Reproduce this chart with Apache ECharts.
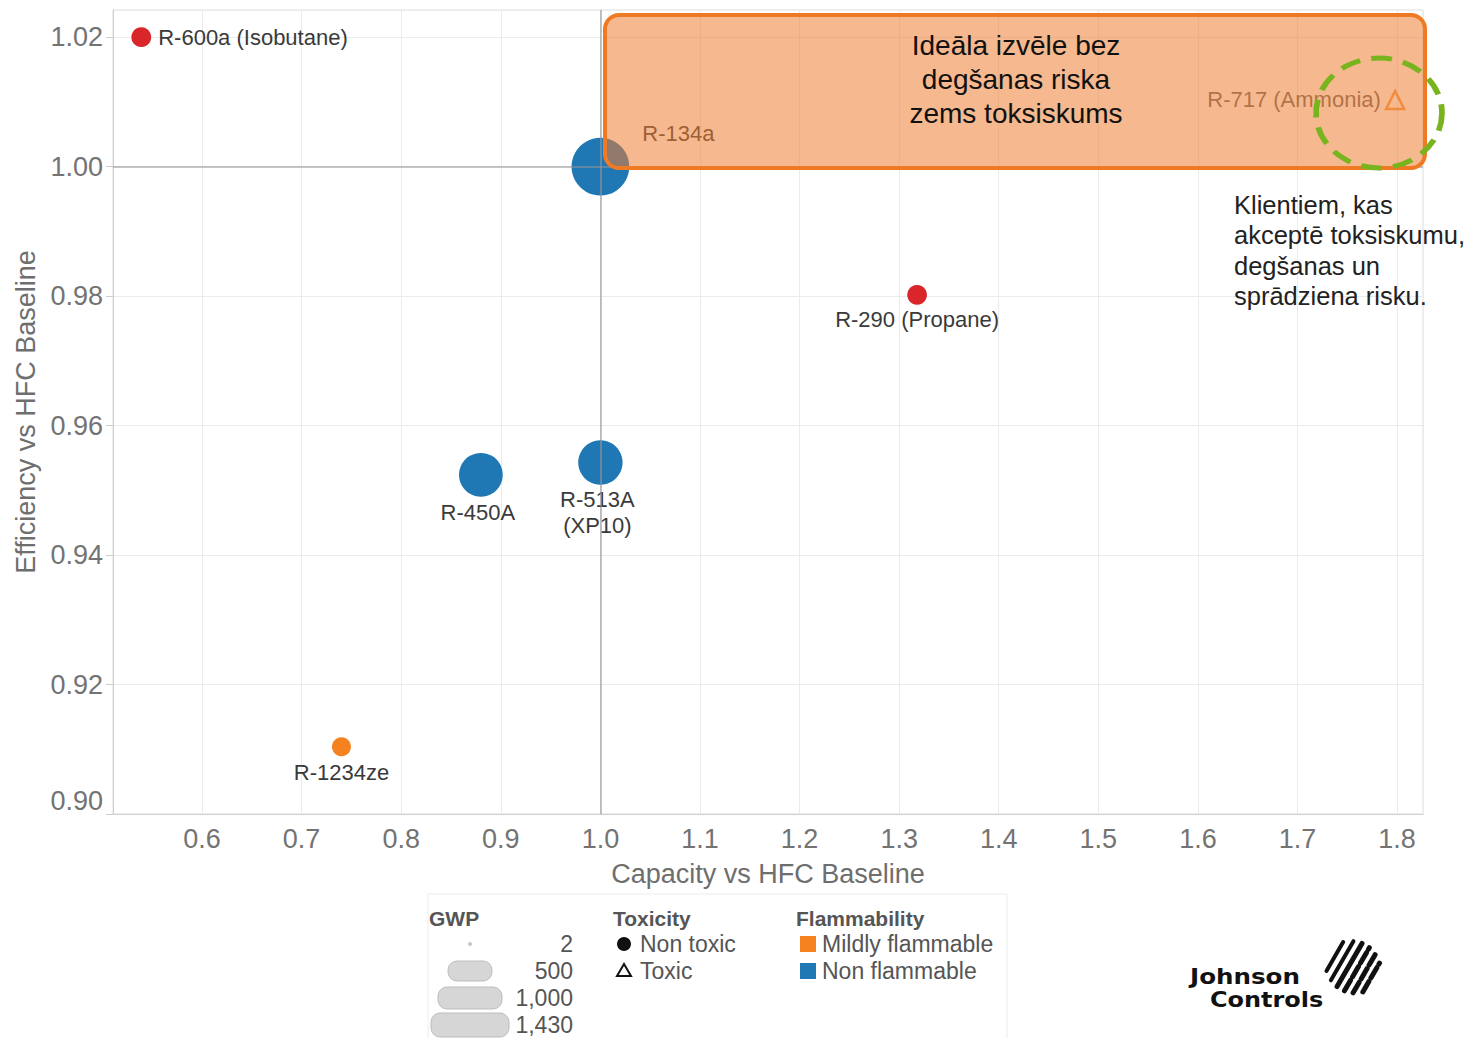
<!DOCTYPE html>
<html>
<head>
<meta charset="utf-8">
<script src="https://cdn.jsdelivr.net/npm/echarts@6/dist/echarts.min.js"></script>
<style>
  html, body { margin: 0; padding: 0; background: #fff; }
  #chart { width: 1464px; height: 1038px; }
</style>
</head>
<body>
<div id="chart"></div>
<script>
// Refrigerant comparison: capacity and efficiency relative to the HFC baseline
const refrigerants = ['R-600a (Isobutane)', 'R-134a', 'R-290 (Propane)', 'R-450A', 'R-513A\n(XP10)', 'R-1234ze', 'R-717 (Ammonia)'];
const capacity     = [0.539, 1.000, 1.318, 0.880, 1.000, 0.740, 1.798];
const efficiency   = [1.0200, 1.0000, 0.9802, 0.9524, 0.9543, 0.9104, 1.0103];
const gwp          = [3, 1430, 3, 601, 631, 1, 0];
const toxicity     = ['Non toxic', 'Non toxic', 'Non toxic', 'Non toxic', 'Non toxic', 'Non toxic', 'Toxic'];
const flammability = ['Flammable', 'Non flammable', 'Flammable', 'Non flammable', 'Non flammable', 'Mildly flammable', 'Mildly flammable'];

const xTicks = [0.6, 0.7, 0.8, 0.9, 1.0, 1.1, 1.2, 1.3, 1.4, 1.5, 1.6, 1.7, 1.8];
const yTicks = [0.90, 0.92, 0.94, 0.96, 0.98, 1.00, 1.02];
const baseline = 1.0;

const gwpLegend = [2, 500, 1000, 1430];
const toxicityLegend = ['Non toxic', 'Toxic'];
const flammabilityLegend = ['Mildly flammable', 'Non flammable'];

const FONT = '"Liberation Sans", Arial, sans-serif';
const flamColors = { 'Flammable': '#d9262b', 'Mildly flammable': '#f5821f', 'Non flammable': '#1f77b4' };
const sizeFromGwp = g => 18 + 1.05 * Math.sqrt(g);

const labelPlacement = {
  'R-600a (Isobutane)': { position: 'right', distance: 7 },
  'R-134a': { position: 'right', distance: 5, offset: [8, -33] },
  'R-290 (Propane)': { position: 'bottom', distance: 4 },
  'R-450A': { position: 'bottom', distance: 5, offset: [-3, 0] },
  'R-513A\n(XP10)': { position: 'bottom', distance: 2, offset: [-3, 0], lineHeight: 26 },
  'R-1234ze': { position: 'bottom', distance: 5 },
  'R-717 (Ammonia)': { position: 'left', distance: 4 }
};

const points = refrigerants.map((name, i) => {
  const toxic = toxicity[i] === 'Toxic';
  const col = flamColors[flammability[i]];
  return {
    name: name,
    value: [capacity[i], efficiency[i], gwp[i]],
    symbol: toxic ? 'triangle' : 'circle',
    symbolSize: sizeFromGwp(gwp[i]),
    itemStyle: toxic
      ? { color: 'rgba(0,0,0,0)', borderColor: col, borderWidth: 2.5 }
      : { color: col, opacity: 1 },
    label: Object.assign({
      show: true,
      formatter: '{b}',
      color: '#3a3a3a',
      fontSize: 22,
      fontFamily: FONT
    }, labelPlacement[name])
  };
});

// ---- annotation and legend graphics ----
const graphics = [];

// highlighted zone (ideal choice)
graphics.push({
  type: 'rect', z: 10,
  shape: { x: 605, y: 15, width: 820, height: 153, r: 14 },
  style: { fill: 'rgba(239,126,50,0.55)', stroke: '#f07a24', lineWidth: 4 }
});
graphics.push({
  type: 'text', z: 11, x: 1016, y: 79,
  style: {
    text: 'Ideāla izvēle bez\ndegšanas riska\nzems toksiskums',
    font: '28px ' + FONT, fill: '#111', align: 'center', verticalAlign: 'middle', lineHeight: 34
  }
});
// dashed ring around ammonia
graphics.push({
  type: 'circle', z: 12, x: 1379, y: 113, scaleX: 63 / 55,
  shape: { cx: 0, cy: 0, r: 55 },
  style: { fill: 'none', stroke: '#78b41e', lineWidth: 5, lineDash: [18, 10] }
});
graphics.push({
  type: 'text', z: 11, x: 1234, y: 190,
  style: {
    text: 'Klientiem, kas\nakceptē toksiskumu,\ndegšanas un\nsprādziena risku.',
    font: '25.5px ' + FONT, fill: '#222', align: 'left', verticalAlign: 'top', lineHeight: 30.3
  }
});

// legend frame
graphics.push({
  type: 'rect', z: 1,
  shape: { x: 428, y: 894, width: 579, height: 150 },
  style: { fill: 'none', stroke: '#ededed', lineWidth: 1 }
});
const legTitle = (x, txt) => ({
  type: 'text', z: 2, x: x, y: 918,
  style: { text: txt, font: 'bold 21px ' + FONT, fill: '#555', align: 'left', verticalAlign: 'middle' }
});
const legText = (x, y, txt, align) => ({
  type: 'text', z: 2, x: x, y: y,
  style: { text: txt, font: '23px ' + FONT, fill: '#555', align: align || 'left', verticalAlign: 'middle' }
});

// GWP size key
graphics.push(legTitle(429, 'GWP'));
const gwpKeyWidths = [3, 44, 64, 78];
const gwpKeyHeights = [3, 20, 22, 24];
gwpLegend.forEach((g, i) => {
  const cy = 944 + i * 27;
  const w = gwpKeyWidths[i], h = gwpKeyHeights[i];
  graphics.push({
    type: 'rect', z: 2,
    shape: { x: 470 - w / 2, y: cy - h / 2, width: w, height: h, r: Math.min(h / 2, 9) },
    style: { fill: '#d6d6d6', stroke: '#bdbdbd', lineWidth: 1 }
  });
  graphics.push(legText(573, cy, g.toLocaleString('en-US'), 'right'));
});

// toxicity key
graphics.push(legTitle(613, 'Toxicity'));
toxicityLegend.forEach((t, i) => {
  const cy = 944 + i * 27;
  if (t === 'Toxic') {
    graphics.push({
      type: 'polygon', z: 2,
      shape: { points: [[624, cy - 7], [631, cy + 5], [617, cy + 5]] },
      style: { fill: 'none', stroke: '#111', lineWidth: 2 }
    });
  } else {
    graphics.push({ type: 'circle', z: 2, shape: { cx: 624, cy: cy, r: 7 }, style: { fill: '#111' } });
  }
  graphics.push(legText(640, cy, t));
});

// flammability key
graphics.push(legTitle(796, 'Flammability'));
flammabilityLegend.forEach((f, i) => {
  const cy = 944 + i * 27;
  graphics.push({ type: 'rect', z: 2, shape: { x: 800, y: cy - 8, width: 16, height: 16 }, style: { fill: flamColors[f] } });
  graphics.push(legText(822, cy, f));
});

// company mark
graphics.push({
  type: 'text', z: 2, x: 1190, y: 977, scaleX: 1.17,
  style: { text: 'Johnson', font: 'bold 21px "DejaVu Sans", sans-serif', fill: '#111', align: 'left', verticalAlign: 'middle' }
});
graphics.push({
  type: 'text', z: 2, x: 1210, y: 1000, scaleX: 1.14,
  style: { text: 'Controls', font: 'bold 21px "DejaVu Sans", sans-serif', fill: '#111', align: 'left', verticalAlign: 'middle' }
});
(function globe() {
  const cx = 1353, cy = 967, R = 28;
  const ang = -60 * Math.PI / 180;
  const dx = Math.cos(ang), dy = Math.sin(ang);
  const nx = -dy, ny = dx;
  [-21, -12.5, -4, 4.5, 13, 21].forEach((o, k) => {
    const half = Math.sqrt(Math.max(R * R - o * o, 0)) * 0.9;
    const mx = cx + nx * o, my = cy + ny * o;
    graphics.push({
      type: 'line', z: 2,
      shape: { x1: mx - dx * half, y1: my - dy * half, x2: mx + dx * half, y2: my + dy * half },
      style: { stroke: '#111', lineWidth: k < 2 ? 4 : 5, lineCap: 'round', lineDash: k > 2 ? [12, 4] : null }
    });
  });
})();

const option = {
  backgroundColor: '#fff',
  animation: false,
  grid: { left: 113, right: 41, top: 10, bottom: 224, show: true, borderColor: '#dcdcdc', borderWidth: 1 },
  xAxis: {
    type: 'value', min: 0.5106, max: 1.826,
    name: 'Capacity vs HFC Baseline', nameLocation: 'middle', nameGap: 46,
    nameTextStyle: { fontSize: 27, color: '#6e6e6e', fontFamily: FONT },
    axisLine: { show: true, lineStyle: { color: '#d0d0d0' } },
    axisTick: { show: false, customValues: xTicks },
    axisLabel: { customValues: xTicks, fontSize: 27, color: '#737373', fontFamily: FONT, margin: 11,
                 formatter: v => v.toFixed(1) },
    splitLine: { show: true, lineStyle: { color: '#ebebeb', width: 1 } }
  },
  yAxis: {
    type: 'value', min: 0.90, max: 1.0242,
    name: 'Efficiency vs HFC Baseline', nameLocation: 'middle', nameGap: 67,
    nameTextStyle: { fontSize: 27, color: '#6e6e6e', fontFamily: FONT },
    axisLine: { show: true, lineStyle: { color: '#d0d0d0' } },
    axisTick: { show: true, customValues: yTicks, length: 7, lineStyle: { color: '#cfcfcf' } },
    axisLabel: { customValues: yTicks, fontSize: 27, color: '#737373', fontFamily: FONT, margin: 10,
                 verticalAlignMinLabel: 'bottom', formatter: v => v.toFixed(2) },
    splitLine: { show: true, lineStyle: { color: '#ebebeb', width: 1 } }
  },
  series: [
    {
      type: 'scatter', z: 2,
      data: points,
      emphasis: { disabled: true }
    },
    {
      // baseline reference lines
      type: 'scatter', z: 5, data: [], silent: true,
      markLine: {
        silent: true, symbol: 'none', label: { show: false },
        lineStyle: { color: 'rgba(150,150,150,0.72)', width: 1.6, type: 'solid' },
        data: [{ xAxis: baseline }, { yAxis: baseline }]
      }
    }
  ],
  graphic: { elements: graphics }
};

const chart = echarts.init(document.getElementById('chart'), null, { renderer: 'svg' });
chart.setOption(option);
</script>
</body>
</html>
